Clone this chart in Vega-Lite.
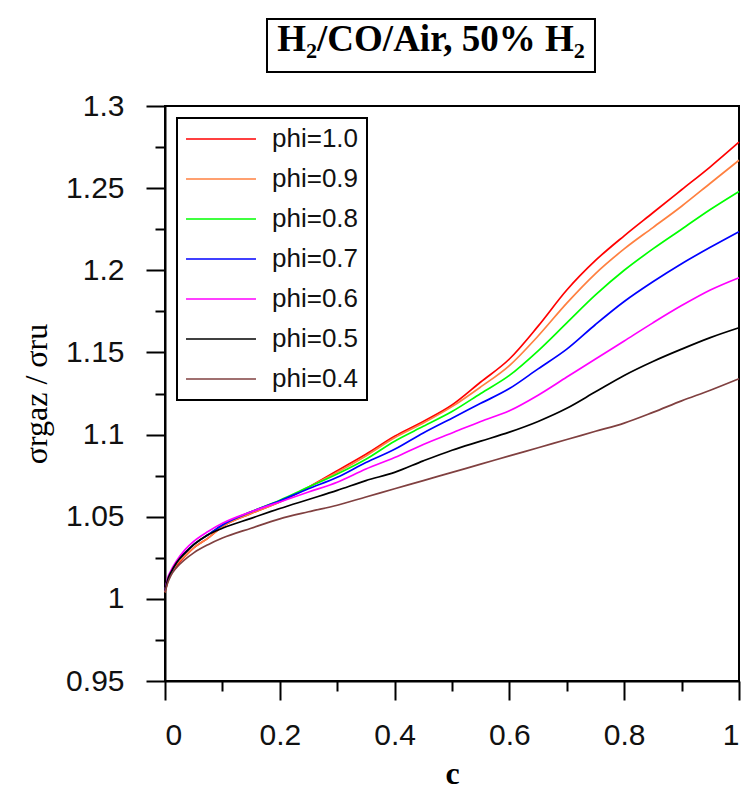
{
  "$schema": "https://vega.github.io/schema/vega-lite/v6.json",
  "width": 574,
  "height": 575,
  "autosize": {"type": "none"},
  "padding": {"left": 165, "top": 106, "right": 8, "bottom": 109},
  "background": "white",
  "config": {
    "view": {"stroke": "black", "strokeWidth": 2},
    "axis": {
      "grid": false,
      "domainColor": "black",
      "domainWidth": 2,
      "tickColor": "black",
      "tickWidth": 2,
      "labelFont": "Liberation Sans",
      "labelFontSize": 30,
      "labelColor": "#111111",
      "titleFont": "Liberation Serif",
      "titleColor": "black"
    },
    "legend": {
      "orient": "none",
      "legendX": 12,
      "legendY": 12,
      "strokeColor": "black",
      "strokeWidth": 2,
      "fillColor": "white",
      "padding": 8,
      "labelFont": "Liberation Sans",
      "labelFontSize": 26,
      "labelColor": "#111111",
      "symbolType": "M-3,0H3",
      "symbolSize": 544,
      "symbolStrokeWidth": 1.6,
      "symbolOffset": 23,
      "labelOffset": 38,
      "rowPadding": 14
    }
  },
  "resolve": {"axis": {"x": "independent", "y": "independent"}},
  "layer": [
    {
      "data": {
        "values": [
          {"phi":"1.0","c":0,"s":1.004},{"phi":"1.0","c":0.005,"s":1.011},{"phi":"1.0","c":0.01,"s":1.015},{"phi":"1.0","c":0.02,"s":1.020},{"phi":"1.0","c":0.035,"s":1.026},{"phi":"1.0","c":0.05,"s":1.031},{"phi":"1.0","c":0.075,"s":1.037},{"phi":"1.0","c":0.1,"s":1.044},{"phi":"1.0","c":0.15,"s":1.052},{"phi":"1.0","c":0.2,"s":1.059},{"phi":"1.0","c":0.25,"s":1.068},{"phi":"1.0","c":0.3,"s":1.078},{"phi":"1.0","c":0.35,"s":1.088},{"phi":"1.0","c":0.4,"s":1.099},{"phi":"1.0","c":0.45,"s":1.108},{"phi":"1.0","c":0.5,"s":1.118},{"phi":"1.0","c":0.55,"s":1.132},{"phi":"1.0","c":0.6,"s":1.146},{"phi":"1.0","c":0.65,"s":1.166},{"phi":"1.0","c":0.7,"s":1.188},{"phi":"1.0","c":0.75,"s":1.206},{"phi":"1.0","c":0.8,"s":1.221},{"phi":"1.0","c":0.85,"s":1.235},{"phi":"1.0","c":0.9,"s":1.249},{"phi":"1.0","c":0.95,"s":1.263},{"phi":"1.0","c":1,"s":1.278},
          {"phi":"0.9","c":0,"s":1.004},{"phi":"0.9","c":0.005,"s":1.011},{"phi":"0.9","c":0.01,"s":1.015},{"phi":"0.9","c":0.02,"s":1.021},{"phi":"0.9","c":0.035,"s":1.026},{"phi":"0.9","c":0.05,"s":1.031},{"phi":"0.9","c":0.075,"s":1.037},{"phi":"0.9","c":0.1,"s":1.044},{"phi":"0.9","c":0.15,"s":1.052},{"phi":"0.9","c":0.2,"s":1.059},{"phi":"0.9","c":0.25,"s":1.068},{"phi":"0.9","c":0.3,"s":1.077},{"phi":"0.9","c":0.35,"s":1.087},{"phi":"0.9","c":0.4,"s":1.098},{"phi":"0.9","c":0.45,"s":1.107},{"phi":"0.9","c":0.5,"s":1.117},{"phi":"0.9","c":0.55,"s":1.129},{"phi":"0.9","c":0.6,"s":1.142},{"phi":"0.9","c":0.65,"s":1.160},{"phi":"0.9","c":0.7,"s":1.180},{"phi":"0.9","c":0.75,"s":1.198},{"phi":"0.9","c":0.8,"s":1.213},{"phi":"0.9","c":0.85,"s":1.226},{"phi":"0.9","c":0.9,"s":1.239},{"phi":"0.9","c":0.95,"s":1.253},{"phi":"0.9","c":1,"s":1.267},
          {"phi":"0.8","c":0,"s":1.005},{"phi":"0.8","c":0.005,"s":1.012},{"phi":"0.8","c":0.01,"s":1.016},{"phi":"0.8","c":0.02,"s":1.022},{"phi":"0.8","c":0.035,"s":1.028},{"phi":"0.8","c":0.05,"s":1.033},{"phi":"0.8","c":0.075,"s":1.039},{"phi":"0.8","c":0.1,"s":1.045},{"phi":"0.8","c":0.15,"s":1.053},{"phi":"0.8","c":0.2,"s":1.060},{"phi":"0.8","c":0.25,"s":1.068},{"phi":"0.8","c":0.3,"s":1.076},{"phi":"0.8","c":0.35,"s":1.085},{"phi":"0.8","c":0.4,"s":1.096},{"phi":"0.8","c":0.45,"s":1.105},{"phi":"0.8","c":0.5,"s":1.114},{"phi":"0.8","c":0.55,"s":1.125},{"phi":"0.8","c":0.6,"s":1.136},{"phi":"0.8","c":0.65,"s":1.151},{"phi":"0.8","c":0.7,"s":1.168},{"phi":"0.8","c":0.75,"s":1.185},{"phi":"0.8","c":0.8,"s":1.200},{"phi":"0.8","c":0.85,"s":1.213},{"phi":"0.8","c":0.9,"s":1.225},{"phi":"0.8","c":0.95,"s":1.237},{"phi":"0.8","c":1,"s":1.248},
          {"phi":"0.7","c":0,"s":1.005},{"phi":"0.7","c":0.005,"s":1.012},{"phi":"0.7","c":0.01,"s":1.016},{"phi":"0.7","c":0.02,"s":1.022},{"phi":"0.7","c":0.035,"s":1.028},{"phi":"0.7","c":0.05,"s":1.033},{"phi":"0.7","c":0.075,"s":1.039},{"phi":"0.7","c":0.1,"s":1.045},{"phi":"0.7","c":0.15,"s":1.053},{"phi":"0.7","c":0.2,"s":1.0597},{"phi":"0.7","c":0.25,"s":1.067},{"phi":"0.7","c":0.3,"s":1.074},{"phi":"0.7","c":0.35,"s":1.083},{"phi":"0.7","c":0.4,"s":1.091},{"phi":"0.7","c":0.45,"s":1.101},{"phi":"0.7","c":0.5,"s":1.110},{"phi":"0.7","c":0.55,"s":1.119},{"phi":"0.7","c":0.6,"s":1.128},{"phi":"0.7","c":0.65,"s":1.140},{"phi":"0.7","c":0.7,"s":1.152},{"phi":"0.7","c":0.75,"s":1.167},{"phi":"0.7","c":0.8,"s":1.181},{"phi":"0.7","c":0.85,"s":1.193},{"phi":"0.7","c":0.9,"s":1.204},{"phi":"0.7","c":0.95,"s":1.214},{"phi":"0.7","c":1,"s":1.2235},
          {"phi":"0.6","c":0,"s":1.005},{"phi":"0.6","c":0.005,"s":1.013},{"phi":"0.6","c":0.01,"s":1.017},{"phi":"0.6","c":0.02,"s":1.023},{"phi":"0.6","c":0.035,"s":1.030},{"phi":"0.6","c":0.05,"s":1.035},{"phi":"0.6","c":0.075,"s":1.041},{"phi":"0.6","c":0.1,"s":1.046},{"phi":"0.6","c":0.15,"s":1.053},{"phi":"0.6","c":0.2,"s":1.059},{"phi":"0.6","c":0.25,"s":1.065},{"phi":"0.6","c":0.3,"s":1.071},{"phi":"0.6","c":0.35,"s":1.079},{"phi":"0.6","c":0.4,"s":1.086},{"phi":"0.6","c":0.45,"s":1.094},{"phi":"0.6","c":0.5,"s":1.101},{"phi":"0.6","c":0.55,"s":1.108},{"phi":"0.6","c":0.6,"s":1.1145},{"phi":"0.6","c":0.65,"s":1.124},{"phi":"0.6","c":0.7,"s":1.135},{"phi":"0.6","c":0.75,"s":1.146},{"phi":"0.6","c":0.8,"s":1.157},{"phi":"0.6","c":0.85,"s":1.168},{"phi":"0.6","c":0.9,"s":1.1785},{"phi":"0.6","c":0.95,"s":1.188},{"phi":"0.6","c":1,"s":1.1955},
          {"phi":"0.5","c":0,"s":1.005},{"phi":"0.5","c":0.005,"s":1.012},{"phi":"0.5","c":0.01,"s":1.016},{"phi":"0.5","c":0.02,"s":1.022},{"phi":"0.5","c":0.035,"s":1.028},{"phi":"0.5","c":0.05,"s":1.033},{"phi":"0.5","c":0.075,"s":1.039},{"phi":"0.5","c":0.1,"s":1.043},{"phi":"0.5","c":0.15,"s":1.049},{"phi":"0.5","c":0.2,"s":1.055},{"phi":"0.5","c":0.25,"s":1.0605},{"phi":"0.5","c":0.3,"s":1.066},{"phi":"0.5","c":0.35,"s":1.072},{"phi":"0.5","c":0.4,"s":1.077},{"phi":"0.5","c":0.45,"s":1.084},{"phi":"0.5","c":0.5,"s":1.0905},{"phi":"0.5","c":0.55,"s":1.096},{"phi":"0.5","c":0.6,"s":1.1015},{"phi":"0.5","c":0.65,"s":1.108},{"phi":"0.5","c":0.7,"s":1.116},{"phi":"0.5","c":0.75,"s":1.126},{"phi":"0.5","c":0.8,"s":1.136},{"phi":"0.5","c":0.85,"s":1.1445},{"phi":"0.5","c":0.9,"s":1.152},{"phi":"0.5","c":0.95,"s":1.159},{"phi":"0.5","c":1,"s":1.165},
          {"phi":"0.4","c":0,"s":1.004},{"phi":"0.4","c":0.005,"s":1.010},{"phi":"0.4","c":0.01,"s":1.014},{"phi":"0.4","c":0.02,"s":1.019},{"phi":"0.4","c":0.035,"s":1.024},{"phi":"0.4","c":0.05,"s":1.028},{"phi":"0.4","c":0.075,"s":1.033},{"phi":"0.4","c":0.1,"s":1.037},{"phi":"0.4","c":0.15,"s":1.043},{"phi":"0.4","c":0.2,"s":1.0487},{"phi":"0.4","c":0.25,"s":1.053},{"phi":"0.4","c":0.3,"s":1.057},{"phi":"0.4","c":0.35,"s":1.062},{"phi":"0.4","c":0.4,"s":1.067},{"phi":"0.4","c":0.45,"s":1.072},{"phi":"0.4","c":0.5,"s":1.077},{"phi":"0.4","c":0.55,"s":1.082},{"phi":"0.4","c":0.6,"s":1.087},{"phi":"0.4","c":0.65,"s":1.092},{"phi":"0.4","c":0.7,"s":1.097},{"phi":"0.4","c":0.75,"s":1.102},{"phi":"0.4","c":0.8,"s":1.107},{"phi":"0.4","c":0.85,"s":1.1135},{"phi":"0.4","c":0.9,"s":1.1205},{"phi":"0.4","c":0.95,"s":1.127},{"phi":"0.4","c":1,"s":1.134}
        ]
      },
      "mark": {"type": "line", "strokeWidth": 1.7, "interpolate": "monotone"},
      "encoding": {
        "x": {
          "field": "c", "type": "quantitative",
          "scale": {"domain": [0, 1], "nice": false, "zero": false},
          "axis": {"orient": "bottom", "values": [0, 0.2, 0.4, 0.6, 0.8, 1], "format": "~g", "tickSize": 19, "labelPadding": 20, "title": "c", "titleFontSize": 32, "titleFontWeight": "bold", "titlePadding": 8}
        },
        "y": {
          "field": "s", "type": "quantitative",
          "scale": {"domain": [0.95, 1.3], "nice": false, "zero": false},
          "axis": {"orient": "left", "values": [0.95, 1, 1.05, 1.1, 1.15, 1.2, 1.25, 1.3], "format": "~g", "tickSize": 19, "labelPadding": 22, "title": "σrgaz / σru", "titleFontSize": 32, "titleFontWeight": "normal", "titlePadding": 12}
        },
        "color": {
          "field": "phi", "type": "nominal",
          "scale": {"domain": ["1.0", "0.9", "0.8", "0.7", "0.6", "0.5", "0.4"], "range": ["#ff0000", "#ff8040", "#00ff00", "#0000ff", "#ff00ff", "#000000", "#804040"]},
          "legend": {"title": null, "labelExpr": "'phi=' + datum.label"}
        }
      }
    },
    {
      "data": {"values": [{}]},
      "mark": {"type": "rect", "filled": false, "stroke": "black", "strokeWidth": 2},
      "encoding": {
        "x": {"datum": 0.1777, "type": "quantitative", "scale": {"domain": [0, 1], "nice": false, "zero": false},
          "axis": {"orient": "bottom", "values": [0.1, 0.3, 0.5, 0.7, 0.9], "labels": false, "domain": false, "tickSize": 10, "title": null}},
        "x2": {"datum": 0.7491},
        "y": {"datum": 1.3207, "type": "quantitative", "scale": {"domain": [0.95, 1.3], "nice": false, "zero": false},
          "axis": {"orient": "left", "values": [0.975, 1.025, 1.075, 1.125, 1.175, 1.225, 1.275], "labels": false, "domain": false, "tickSize": 10, "title": null}},
        "y2": {"datum": 1.353}
      }
    },
    {
      "data": {"values": [{"t": "H₂/CO/Air, 50% H₂"}]},
      "mark": {"type": "text", "font": "Liberation Serif", "fontWeight": "bold", "fontSize": 37, "align": "center", "baseline": "alphabetic", "color": "black"},
      "encoding": {
        "text": {"field": "t"},
        "x": {"datum": 0.4634, "type": "quantitative", "scale": {"domain": [0, 1], "nice": false, "zero": false}, "axis": null},
        "y": {"datum": 1.3335, "type": "quantitative", "scale": {"domain": [0.95, 1.3], "nice": false, "zero": false}, "axis": null}
      }
    }
  ]
}
